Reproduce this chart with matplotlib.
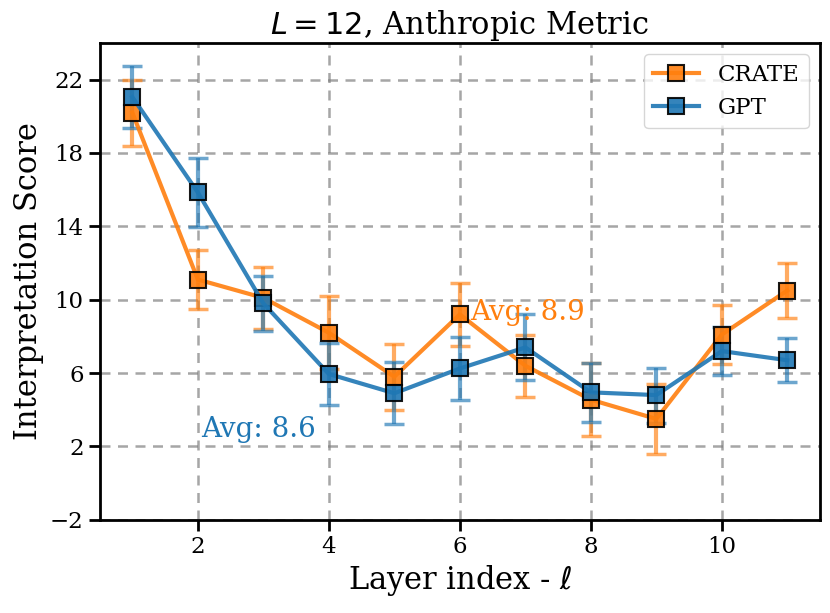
import matplotlib
matplotlib.use("Agg")
import matplotlib.pyplot as plt

layers = [1, 2, 3, 4, 5, 6, 7, 8, 9, 10, 11]
crate_mean = [20.2, 11.1, 10.1, 8.2, 5.8, 9.2, 6.4, 4.55, 3.5, 8.1, 10.5]
crate_err = [1.8, 1.6, 1.7, 2.0, 1.8, 1.7, 1.7, 2.0, 1.9, 1.6, 1.5]
gpt_mean = [21.05, 15.85, 9.8, 5.95, 4.9, 6.25, 7.4, 4.95, 4.8, 7.2, 6.7]
gpt_err = [1.7, 1.9, 1.5, 1.7, 1.7, 1.7, 1.8, 1.6, 1.5, 1.3, 1.2]
yticks = [-2, 2, 6, 10, 14, 18, 22]
xticks = [2, 4, 6, 8, 10]

plt.rcParams["font.family"] = "DejaVu Serif"
plt.rcParams["mathtext.fontset"] = "dejavusans"

fig = plt.figure(figsize=(8.3, 6.13), dpi=100)
ax = fig.add_axes([0.12, 0.152, 0.868, 0.778])

for mean, err, color, label in [
    (crate_mean, crate_err, "tab:orange", "CRATE"),
    (gpt_mean, gpt_err, "tab:blue", "GPT"),
]:
    ax.errorbar(layers, mean, yerr=err, fmt="none", ecolor=color, alpha=0.65,
                elinewidth=3, capsize=7, capthick=2.5, zorder=2)
    ax.plot(layers, mean, color=color, lw=3, marker="s", markersize=12,
            markeredgecolor="black", markeredgewidth=1.5, label=label,
            alpha=0.9, zorder=3)

ax.text(6.15, 8.9, "Avg: 8.9", color="tab:orange", fontsize=20)
ax.text(2.05, 2.5, "Avg: 8.6", color="tab:blue", fontsize=20)

ax.set_xlim(0.5, 11.5)
ax.set_ylim(-2, 24)
ax.set_xticks(xticks)
ax.set_yticks(yticks)
ax.set_yticklabels([f"{t}".replace("-", "\u2212") for t in yticks])
ax.tick_params(direction="out", length=8, width=2, labelsize=16.5)
for s in ax.spines.values():
    s.set_linewidth(2)
ax.grid(True, linestyle=(0, (4, 3)), color="gray", alpha=0.7, lw=1.8)

ax.set_xlabel(r"Layer index - $\ell$", fontsize=22)
ax.set_ylabel("Interpretation Score", fontsize=22)
ax.set_title(r"$L=12$, Anthropic Metric", fontsize=22)
ax.legend(loc="upper right", fontsize=16.5, framealpha=0.8)

fig.savefig("out.png", dpi=100)
